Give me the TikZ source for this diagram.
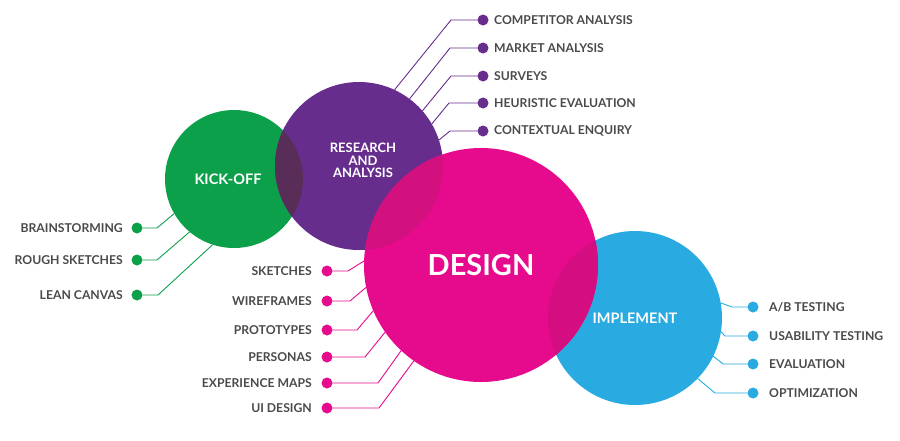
\documentclass[tikz,border=0pt]{standalone}
\usepackage{fontspec}
\setmainfont{Lato}
\begin{document}
\definecolor{kgreen}{HTML}{0DA04B}
\definecolor{rpurple}{HTML}{662D8C}
\definecolor{dmagenta}{HTML}{E60A8C}
\definecolor{iblue}{HTML}{29AAE1}
\definecolor{gpmix}{HTML}{582E58}
\definecolor{pmmix}{HTML}{D2107E}
\definecolor{mbmix}{HTML}{D40E80}
\definecolor{labelgrey}{HTML}{4A4A4A}
\begin{tikzpicture}[x=1pt,y=-1pt,
  phase/.style={circle,inner sep=0pt,outer sep=0pt,minimum size=#1},
  phasetext/.style={text=white,font=\fontsize{#1}{#1}\selectfont\bfseries,align=center,inner sep=0pt},
  dot/.style={circle,fill=#1,inner sep=0pt,outer sep=0pt,minimum size=11pt},
  wire/.style={draw=#1,line width=0.9pt},
  lbl/.style={text=labelgrey,font=\fontsize{12.2}{14}\selectfont\bfseries,inner sep=0pt},
]
\useasboundingbox (0,0) rectangle (900,440);

% phase circles
\node[phase=138pt,fill=kgreen]   (kick)   at (234,179) {};
\node[phase=168pt,fill=rpurple]  (research) at (359,166) {};
\node[phase=174pt,fill=iblue]    (implement) at (635,318) {};
\node[phase=234pt,fill=dmagenta] (design) at (481,265) {};

% overlapping lenses
\begin{scope}
  \clip (kick.center) circle[radius=69];
  \fill[gpmix] (research.center) circle[radius=84];
\end{scope}
\begin{scope}
  \clip (research.center) circle[radius=84];
  \fill[pmmix] (design.center) circle[radius=117];
\end{scope}
\begin{scope}
  \clip (implement.center) circle[radius=87];
  \fill[mbmix] (design.center) circle[radius=117];
\end{scope}

% research activities
\node[dot=rpurple] (competitor) at (483,20) {};
\node[dot=rpurple] (market)     at (483,48) {};
\node[dot=rpurple] (surveys)    at (483,76) {};
\node[dot=rpurple] (heuristic)  at (483,103) {};
\node[dot=rpurple] (contextual) at (483,131) {};
\draw[wire=rpurple] (competitor) -- ++(-32,0) -- (research.65);
\draw[wire=rpurple] (market)     -- ++(-33,0) -- (research.53.5);
\draw[wire=rpurple] (surveys)    -- ++(-32,0) -- (research.41);
\draw[wire=rpurple] (heuristic)  -- ++(-34,0) -- (research.30);
\draw[wire=rpurple] (contextual) -- ++(-33,0) -- (research.18);
\node[lbl,anchor=west] (competitorlbl) at ([xshift=11pt]competitor.center) {COMPETITOR ANALYSIS};
\node[lbl,anchor=west] (marketlbl)     at ([xshift=11pt]market.center) {MARKET ANALYSIS};
\node[lbl,anchor=west] (surveyslbl)    at ([xshift=11pt]surveys.center) {SURVEYS};
\node[lbl,anchor=west] (heuristiclbl)  at ([xshift=11pt]heuristic.center) {HEURISTIC EVALUATION};
\node[lbl,anchor=west] (contextuallbl) at ([xshift=11pt]contextual.center) {CONTEXTUAL ENQUIRY};

% kick-off activities
\node[dot=kgreen] (brainstorm) at (137,228) {};
\node[dot=kgreen] (rough)      at (137,260) {};
\node[dot=kgreen] (lean)       at (137,295) {};
\draw[wire=kgreen] (brainstorm) -- ++(20,0) -- (kick.210.7);
\draw[wire=kgreen] (rough)      -- ++(20,0) -- (kick.230.3);
\draw[wire=kgreen] (lean)       -- ++(21,0) -- (kick.252.6);
\node[lbl,anchor=east] (brainstormlbl) at ([xshift=-14pt]brainstorm.center) {BRAINSTORMING};
\node[lbl,anchor=east] (roughlbl)      at ([xshift=-14pt]rough.center) {ROUGH SKETCHES};
\node[lbl,anchor=east] (leanlbl)       at ([xshift=-14pt]lean.center) {LEAN CANVAS};

% design activities
\node[dot=dmagenta] (sketches)   at (327,271) {};
\node[dot=dmagenta] (wireframes) at (327,301) {};
\node[dot=dmagenta] (prototypes) at (327,330) {};
\node[dot=dmagenta] (personas)   at (327,357) {};
\node[dot=dmagenta] (expmaps)    at (327,383) {};
\node[dot=dmagenta] (uidesign)   at (327,408) {};
\draw[wire=dmagenta] (sketches)   -- ++(21,0) -- (design.178.5);
\draw[wire=dmagenta] (wireframes) -- ++(23,0) -- (design.191.4);
\draw[wire=dmagenta] (prototypes) -- ++(30,0) -- (design.203.7);
\draw[wire=dmagenta] (personas)   -- ++(38,0) -- (design.215.3);
\draw[wire=dmagenta] (expmaps)    -- ++(51,0) -- (design.227);
\draw[wire=dmagenta] (uidesign)   -- ++(52,0) -- (design.235.6);
\node[lbl,anchor=east] (sketcheslbl)   at ([xshift=-15pt]sketches.center) {SKETCHES};
\node[lbl,anchor=east] (wireframeslbl) at ([xshift=-15pt]wireframes.center) {WIREFRAMES};
\node[lbl,anchor=east] (prototypeslbl) at ([xshift=-15pt]prototypes.center) {PROTOTYPES};
\node[lbl,anchor=east] (personaslbl)   at ([xshift=-15pt]personas.center) {PERSONAS};
\node[lbl,anchor=east] (expmapslbl)    at ([xshift=-15pt]expmaps.center) {EXPERIENCE MAPS};
\node[lbl,anchor=east] (uidesignlbl)   at ([xshift=-15pt]uidesign.center) {UI DESIGN};

% implementation activities
\node[dot=iblue] (abtest)    at (753,307) {};
\node[dot=iblue] (usability) at (753,336) {};
\node[dot=iblue] (evaluation) at (753,364) {};
\node[dot=iblue] (optimize)  at (753,393) {};
\draw[wire=iblue] (abtest)     -- ++(-21,0) -- (implement.10.7);
\draw[wire=iblue] (usability)  -- ++(-28,0) -- (implement.-9.1);
\draw[wire=iblue] (evaluation) -- ++(-30,0) -- (implement.-26.6);
\draw[wire=iblue] (optimize)   -- ++(-38,0) -- (implement.-44.5);
\node[lbl,anchor=west] (abtestlbl)     at ([xshift=16pt]abtest.center) {A/B TESTING};
\node[lbl,anchor=west] (usabilitylbl)  at ([xshift=16pt]usability.center) {USABILITY TESTING};
\node[lbl,anchor=west] (evaluationlbl) at ([xshift=16pt]evaluation.center) {EVALUATION};
\node[lbl,anchor=west] (optimizelbl)   at ([xshift=16pt]optimize.center) {OPTIMIZATION};

% phase titles
\node[phasetext=14.5] (kicktitle) at (228,179) {KICK-OFF};
\node[phasetext=13] (researchtitle1) at (363,148) {RESEARCH};
\node[phasetext=13] (researchtitle2) at (363,160.5) {AND};
\node[phasetext=13] (researchtitle3) at (363,173) {ANALYSIS};
\node[phasetext=29] (designtitle) at (481,265) {DESIGN};
\node[phasetext=14.5] (implementtitle) at (635,318) {IMPLEMENT};
\end{tikzpicture}
\end{document}
